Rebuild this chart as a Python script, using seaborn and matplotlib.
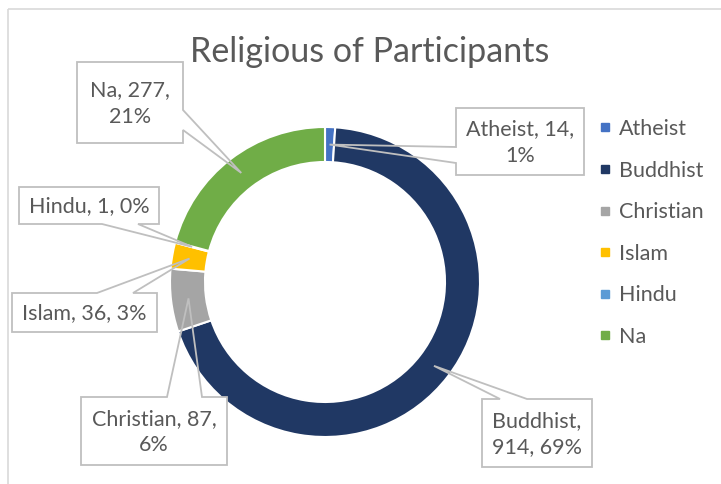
import matplotlib
matplotlib.use("Agg")
import numpy as np
import matplotlib.pyplot as plt
from matplotlib.lines import Line2D
from matplotlib.patches import Polygon, Rectangle
import seaborn as sns

# data
categories = ["Atheist", "Buddhist", "Christian", "Islam", "Hindu", "Na"]
counts = [14, 914, 87, 36, 1, 277]
percent_labels = ["1%", "69%", "6%", "3%", "0%", "21%"]
colors = ["#4472C4", "#203864", "#A5A5A5", "#FFC000", "#5B9BD5", "#70AD47"]
title = "Religious of Participants"

# callout layout (pixels): box, side of the pointer, pointer base, line break
label_layout = {
    "Atheist": ((456, 108, 584, 175), "left", (147, 163), 2),
    "Buddhist": ((482, 399, 592, 467), "top", (500, 527), 1),
    "Christian": ((81, 397, 227, 465), "top", (167, 202), 2),
    "Islam": ((12, 293, 157, 332), "top", (97, 133), None),
    "Hindu": ((19, 187, 159, 224), "bottom", (102, 138), None),
    "Na": ((77, 62, 183, 143), "right", (110, 130), 2),
}

TEXT = "#595959"
LINE = "#BFBFBF"

sns.set_theme(style="white")
plt.rcParams["font.family"] = ["Lato", "DejaVu Sans"]

W, H = 721, 484
fig = plt.figure(figsize=(W / 100, H / 100), dpi=100)
ax = fig.add_axes([0, 0, 1, 1])

cx, cy, r_out, ring = 325, 282, 155, 35
wedges, _ = ax.pie(counts, colors=colors, startangle=-90, counterclock=True,
                   center=(cx, cy), radius=r_out, frame=True,
                   wedgeprops=dict(width=ring, edgecolor="white", linewidth=1.5))
ax.set_xlim(0, W)
ax.set_ylim(H, 0)
ax.set_aspect("equal")
ax.axis("off")

# chart area border
ax.add_patch(Rectangle((8, 9), W, H, fill=False, edgecolor="#D9D9D9", lw=1.2, zorder=1))

ax.text(370, 62, title, ha="center", va="baseline", fontsize=24.5, color=TEXT)


def outline(box, side, base, tip):
    x0, y0, x1, y1 = box
    a, b = base
    if side == "top":
        return [(x0, y0), (a, y0), tip, (b, y0), (x1, y0), (x1, y1), (x0, y1)]
    if side == "right":
        return [(x0, y0), (x1, y0), (x1, a), tip, (x1, b), (x1, y1), (x0, y1)]
    if side == "bottom":
        return [(x0, y0), (x1, y0), (x1, y1), (b, y1), tip, (a, y1), (x0, y1)]
    return [(x0, y0), (x1, y0), (x1, y1), (x0, y1), (x0, b), tip, (x0, a)]


r_mid = r_out - ring / 2
for w, cat, n, pct in zip(wedges, categories, counts, percent_labels):
    box, side, base, brk = label_layout[cat]
    ang = np.deg2rad((w.theta1 + w.theta2) / 2)
    tip = (cx + r_mid * np.cos(ang), cy + r_mid * np.sin(ang))
    parts = [cat, str(n), pct]
    if brk is None:
        txt = ", ".join(parts)
    else:
        txt = ", ".join(parts[:brk]) + ",\n" + ", ".join(parts[brk:])
    x0, y0, x1, y1 = box
    ax.add_patch(Rectangle((x0, y0), x1 - x0, y1 - y0, facecolor="white", edgecolor="none", zorder=3))
    ax.add_patch(Polygon(outline(box, side, base, tip), closed=True, facecolor="none",
                         edgecolor=LINE, lw=1.3, zorder=4))
    ax.text((x0 + x1) / 2, (y0 + y1) / 2 + 1, txt, ha="center", va="center", fontsize=15.5,
            color=TEXT, linespacing=1.4, multialignment="center", zorder=5)

handles = [Line2D([], [], marker="s", linestyle="", markersize=5.2,
                  markerfacecolor=c, markeredgecolor=c) for c in colors]
ax.legend(handles, categories, loc="upper left", bbox_to_anchor=(600 / W, 1 - 119 / H),
          frameon=False, fontsize=15.5, labelcolor=TEXT, handlelength=0.5,
          handletextpad=0.4, labelspacing=1.0, borderpad=0, borderaxespad=0)

fig.savefig("out.png", dpi=100)
